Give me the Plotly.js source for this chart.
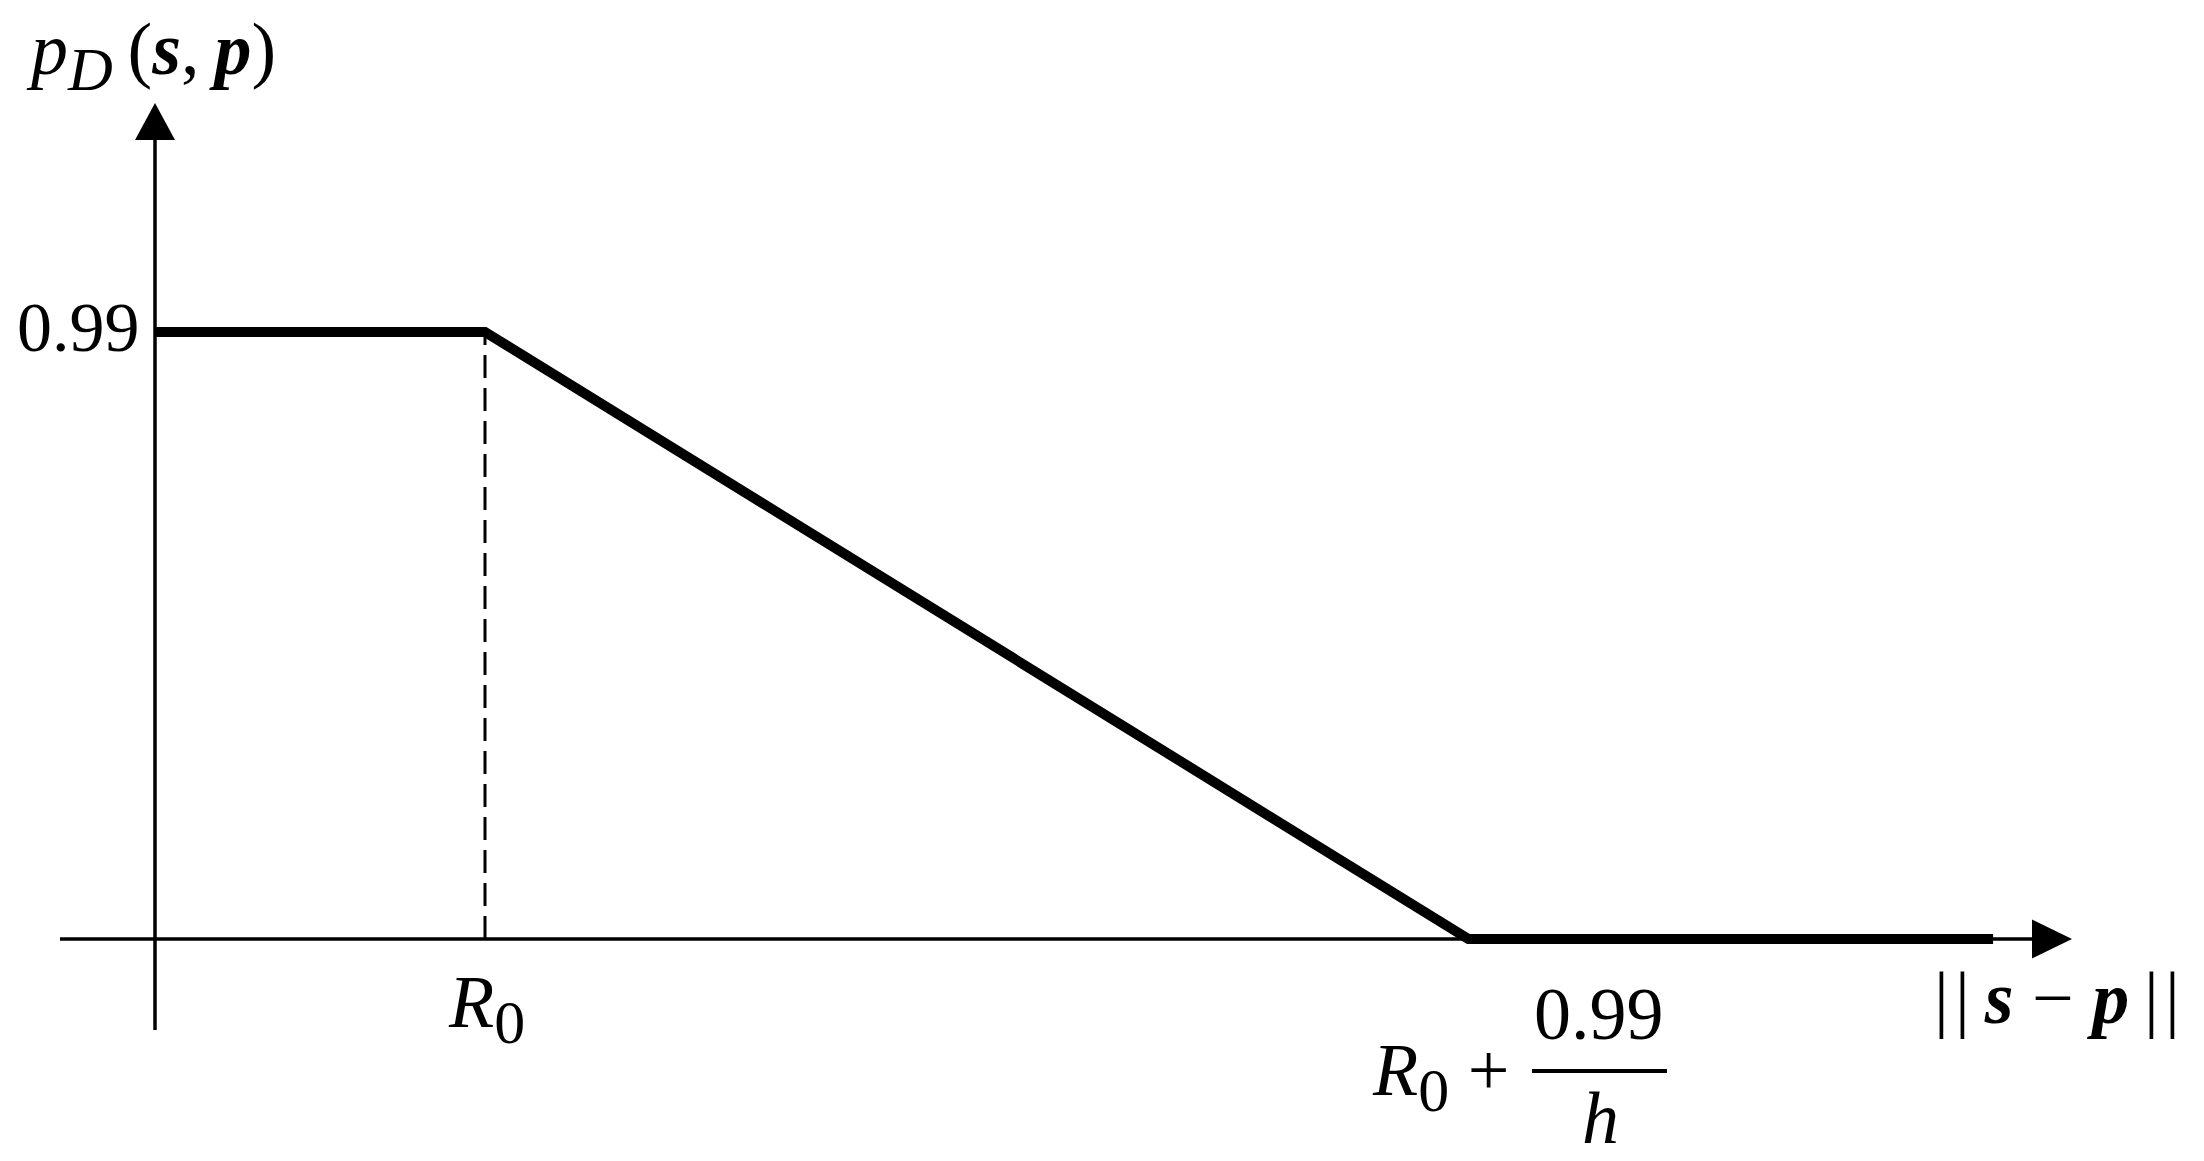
<!DOCTYPE html>
<html>
<head>
<meta charset="utf-8">
<script src="https://cdn.plot.ly/plotly-3.0.1.min.js"></script>
<style>
  html, body { margin: 0; padding: 0; background: #fff; }
  #plot { width: 2204px; height: 1161px; }
</style>
</head>
<body>
<div id="plot"></div>
<script>
// distance ||s - p|| in units of R0, detection probability p_D
var distance = [0, 1, 3.98, 5.57];
var detectProb = [0.99, 0.99, 0, 0];
var r0 = 1;
var pMax = 0.99;

var W = 2204, H = 1161;
// pixel layout of the sketch
var originX = 155, originY = 939;
var pxPerX = 330, pxPerY = 607 / pMax;

function dx(px) { return (px - originX) / pxPerX; }
function dy(py) { return (originY - py) / pxPerY; }
function px(x) { return x / W; }
function py(y) { return 1 - y / H; }
function pt(x, y) { return dx(x) + ',' + dy(y); }

var font = { family: 'Liberation Serif, Times New Roman, serif', size: 74, color: '#000' };
var sub = function (s) { return '<sub><span style="font-size:62px">' + s + '</span></sub>'; };

var curve = {
  x: distance,
  y: detectProb,
  type: 'scatter',
  mode: 'lines',
  line: { color: '#000', width: 10 },
  hoverinfo: 'skip'
};

var guide = {
  x: [r0, r0],
  y: [0, pMax],
  type: 'scatter',
  mode: 'lines',
  line: { color: '#000', width: 3, dash: '23px,10px' },
  hoverinfo: 'skip'
};

var layout = {
  width: W,
  height: H,
  margin: { l: 0, r: 0, t: 0, b: 0 },
  paper_bgcolor: '#fff',
  plot_bgcolor: '#fff',
  showlegend: false,
  xaxis: { range: [dx(0), dx(W)], visible: false, fixedrange: true },
  yaxis: { range: [dy(H), dy(0)], visible: false, fixedrange: true },
  shapes: [
    { type: 'line', xref: 'x', yref: 'y', x0: dx(60), x1: dx(2040), y0: 0, y1: 0,
      line: { color: '#000', width: 3.5 }, layer: 'below' },
    { type: 'line', xref: 'x', yref: 'y', x0: 0, x1: 0, y0: dy(1030), y1: dy(135),
      line: { color: '#000', width: 3.5 }, layer: 'below' },
    // arrowheads
    { type: 'path', xref: 'x', yref: 'y', path: 'M' + pt(2072, 939) + 'L' + pt(2032, 919.5) + 'L' + pt(2032, 958.5) + 'Z',
      fillcolor: '#000', line: { width: 0 } },
    { type: 'path', xref: 'x', yref: 'y', path: 'M' + pt(155, 103) + 'L' + pt(135, 140) + 'L' + pt(175, 140) + 'Z',
      fillcolor: '#000', line: { width: 0 } },
    // fraction bar
    { type: 'line', xref: 'paper', yref: 'paper', x0: px(1532), x1: px(1667), y0: py(1071), y1: py(1071),
      line: { color: '#000', width: 4 } }
  ],
  annotations: [
    { text: '<i>p</i>' + sub('<i>D</i>') + '\u2009(<b><i>s</i></b>,\u2009<b><i>p</i></b>)', xref: 'paper', yref: 'paper',
      x: px(151), y: py(56), xanchor: 'center', yanchor: 'middle', showarrow: false, font: font },
    { text: '0.99', xref: 'paper', yref: 'paper',
      x: px(142), y: py(327), xanchor: 'right', yanchor: 'middle', showarrow: false,
      font: { family: font.family, size: 70, color: '#000' } },
    { text: '<i>R</i>' + sub('0'), xref: 'paper', yref: 'paper',
      x: px(486), y: py(1008), xanchor: 'center', yanchor: 'middle', showarrow: false, font: font },
    { text: '<i>R</i>' + sub('0') + ' +', xref: 'paper', yref: 'paper',
      x: px(1440), y: py(1076), xanchor: 'center', yanchor: 'middle', showarrow: false, font: font },
    { text: '0.99', xref: 'paper', yref: 'paper',
      x: px(1599), y: py(1014), xanchor: 'center', yanchor: 'middle', showarrow: false, font: font },
    { text: '<i>h</i>', xref: 'paper', yref: 'paper',
      x: px(1600), y: py(1118), xanchor: 'center', yanchor: 'middle', showarrow: false, font: font },
    { text: '|\u200A|\u2009<b><i>s</i></b> \u2212 <b><i>p</i></b>\u2009|\u200A|', xref: 'paper', yref: 'paper',
      x: px(2057), y: py(998), xanchor: 'center', yanchor: 'middle', showarrow: false, font: font }
  ]
};

Plotly.newPlot('plot', [guide, curve], layout, { displayModeBar: false, staticPlot: true });
</script>
</body>
</html>
